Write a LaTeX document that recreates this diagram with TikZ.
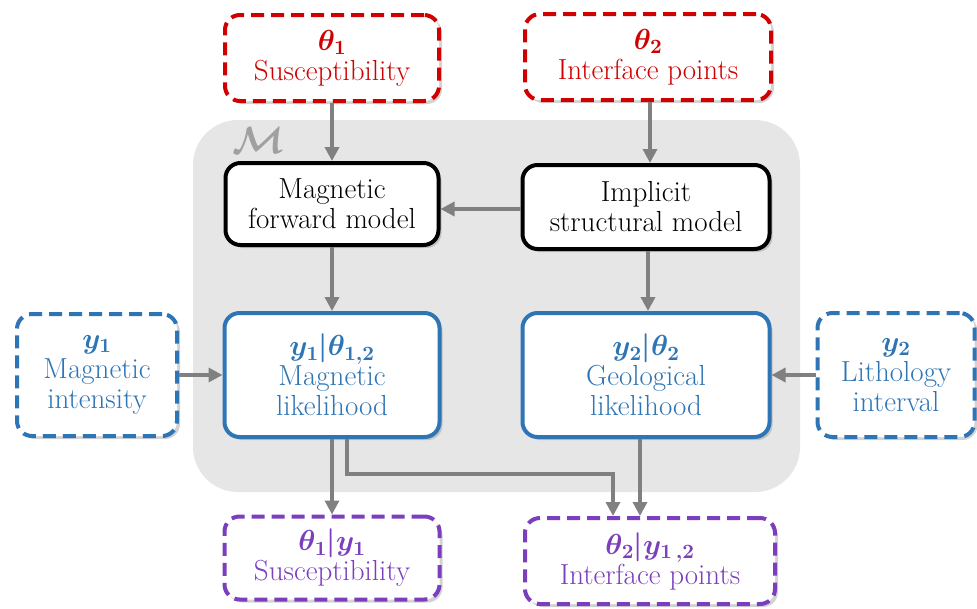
\documentclass[tikz,border=0pt]{standalone}
\usepackage{amsmath,bm}
\DeclareFontShape{OML}{cmm}{m}{it}{<->cmmi10}{}
\DeclareFontShape{OML}{cmm}{b}{it}{<->cmmib10}{}
\DeclareFontShape{OMS}{cmsy}{m}{n}{<->cmsy10}{}
\DeclareFontShape{OMS}{cmsy}{b}{n}{<->cmbsy10}{}
\DeclareFontShape{OT1}{cmr}{m}{n}{<->cmr10}{}
\DeclareFontShape{OT1}{cmr}{bx}{n}{<->cmbx10}{}
\usetikzlibrary{shadows,arrows.meta}
\definecolor{cred}{HTML}{D00000}
\definecolor{cblue}{HTML}{2E75B6}
\definecolor{cpurple}{HTML}{7B3FBE}
\definecolor{carrow}{HTML}{808080}
\definecolor{cregion}{HTML}{E6E6E6}
\definecolor{cM}{HTML}{A0A0A0}
\tikzset{
  box/.style={rounded corners=15pt, line width=4pt, fill=white, align=center,
    font=\fontsize{29}{30}\selectfont, inner sep=2pt,
    drop shadow={opacity=0.35, shadow xshift=3pt, shadow yshift=-3pt}},
  dashbox/.style={box, dash pattern=on 13pt off 7pt},
  redbox/.style={dashbox, draw=cred, text=cred},
  bluedash/.style={dashbox, draw=cblue, text=cblue},
  purplebox/.style={dashbox, draw=cpurple, text=cpurple},
  blackbox/.style={box, draw=black, text=black},
  bluebox/.style={box, draw=cblue, text=cblue},
  arr/.style={draw=carrow, line width=3.4pt, -{Triangle[length=14pt,width=14pt]}}
}
\begin{document}
\begin{tikzpicture}[x=1pt,y=-1pt]
\useasboundingbox (0,0) rectangle (977,608);
% model region
\node[fill=cregion, rounded corners=45pt, minimum width=607, minimum height=372, inner sep=0pt] (region) at (496.5,306) {};
\node[text=cM, font=\fontsize{38}{42}\selectfont, inner sep=0pt] (mlabel) at (259,140) {$\bm{\mathcal{M}}$};
% top inputs
\node[redbox, minimum width=214, minimum height=86] (t1) at (332,58) {{\boldmath$\theta_1$}\\Susceptibility};
\node[redbox, minimum width=246, minimum height=86] (t2) at (648,57) {{\boldmath$\theta_2$}\\Interface points};
% model boxes
\node[blackbox, minimum width=213, minimum height=82] (mf) at (332,204) {Magnetic\\forward model};
\node[blackbox, minimum width=247, minimum height=84] (im) at (646,207) {Implicit\\structural model};
\node[bluebox, minimum width=215, minimum height=124] (ml) at (332,375) {{\boldmath$y_1|\theta_{1,2}$}\\Magnetic\\likelihood};
\node[bluebox, minimum width=247, minimum height=124] (gl) at (646,375) {{\boldmath$y_2|\theta_2$}\\Geological\\likelihood};
% data
\node[bluedash, minimum width=160, minimum height=122] (y1) at (97,375) {{\boldmath$y_1$}\\Magnetic\\intensity};
\node[bluedash, minimum width=157, minimum height=124] (y2) at (896,375) {{\boldmath$y_2$}\\Lithology\\interval};
% outputs
\node[purplebox, minimum width=215, minimum height=83] (p1) at (332,558) {{\boldmath$\theta_1|y_1$}\\Susceptibility};
\node[purplebox, minimum width=250, minimum height=86] (p2) at (650,561) {{\boldmath$\theta_2|y_{1\,,2}$}\\Interface points};
% connectors
\draw[arr] (t1.south) -- (mf.north);
\draw[arr] ([xshift=2pt]t2.south) -- ([xshift=4pt]im.north);
\draw[arr] ([yshift=-5pt]im.west |- mf.east) -- ([yshift=-5pt]mf.east);
\draw[arr] (mf.south) -- (ml.north);
\draw[arr] ([xshift=2pt]im.south) -- ([xshift=2pt]gl.north);
\draw[arr] (y1.east) -- (ml.west);
\draw[arr] (y2.west) -- (gl.east);
\draw[arr] (ml.south) -- (p1.north);
\draw[arr] ([xshift=15pt]ml.south) -- ++(0,35) -| ([xshift=-37pt]p2.north);
\draw[arr] ([xshift=-6pt]gl.south) -- ([xshift=-6pt]gl.south |- p2.north);
\end{tikzpicture}
\end{document}
